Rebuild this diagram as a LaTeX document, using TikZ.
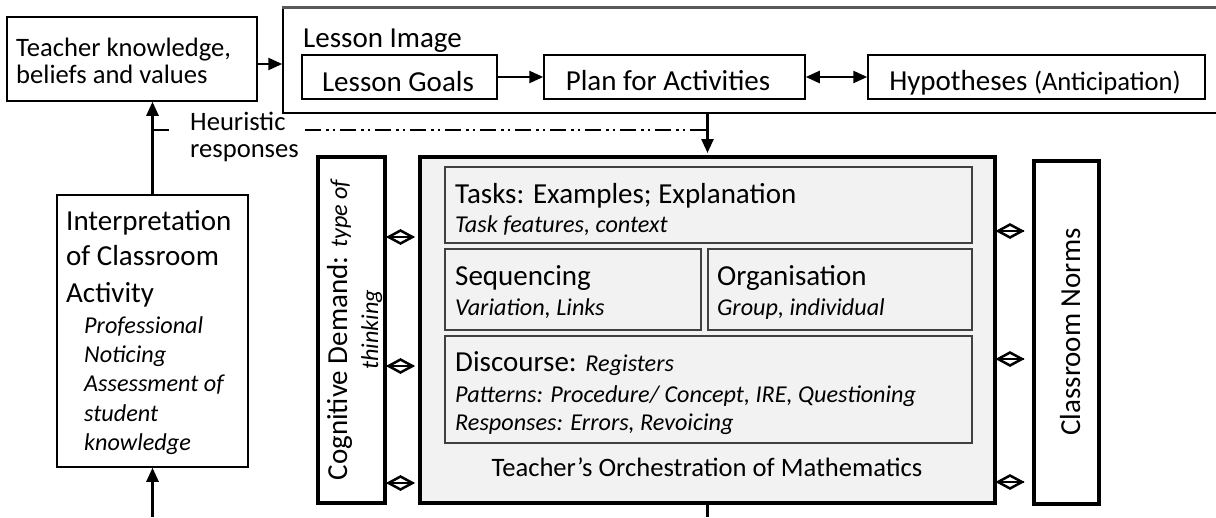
\documentclass[tikz,border=0pt]{standalone}
\usepackage{fontspec}
\setmainfont{Carlito}
\usetikzlibrary{arrows.meta,shapes.geometric}
\definecolor{boxfill}{HTML}{F2F2F2}
\definecolor{innerline}{HTML}{404040}
\definecolor{topgray}{HTML}{595959}
\newcommand\fbig{\fontsize{29}{35}\selectfont}
\newcommand\fmid{\fontsize{26.6}{27}\selectfont}
\newcommand\fsmall{\fontsize{24.2}{29}\selectfont\itshape}
\begin{document}
\begin{tikzpicture}[x=1pt,y=-1pt,
  box/.style={draw, line width=1.5pt, inner sep=0pt},
  thickbox/.style={draw, line width=4pt, inner sep=0pt},
  innerbox/.style={draw=innerline, line width=1.5pt, fill=boxfill, inner sep=0pt},
  txt/.style={anchor=base west, inner sep=0pt},
  ctxt/.style={anchor=base, inner sep=0pt},
  arr/.style={line width=2.5pt, -{Triangle[length=14pt,width=12pt]}},
  darr/.style={line width=2.5pt, {Triangle[length=14pt,width=12pt]}-{Triangle[length=14pt,width=12pt]}},
  link/.style={diamond, draw, line width=2.5pt, minimum width=25pt, minimum height=14pt, inner sep=0pt},
  dd/.style={line width=2pt, dash pattern=on 16pt off 5pt on 2.5pt off 4pt on 2.5pt off 5pt}
]
\useasboundingbox (0,0) rectangle (1216,517);
% boxes
\node[box, minimum width=250pt, minimum height=84pt] (tk) at (132,59) {};
\begin{scope}
\clip (0,0) rectangle (1216,517);
\node[box, minimum width=941pt, minimum height=105pt] (li) at (753.5,60.5) {};
\draw[topgray, line width=2.5pt] (li.north west) -- (li.north east);
\end{scope}
\node[box, minimum width=195pt, minimum height=44pt] (lg) at (399.5,77) {};
\node[box, minimum width=261pt, minimum height=44pt] (pa) at (674.5,77) {};
\node[box, minimum width=337pt, minimum height=44pt] (hy) at (1036.5,77) {};
\node[box, minimum width=191pt, minimum height=272pt] (interp) at (152.5,331) {};
\node[thickbox, minimum width=67pt, minimum height=346pt] (cog) at (351.5,330) {};
\node[thickbox, fill=boxfill, minimum width=575pt, minimum height=346pt] (main) at (707.5,330) {};
\node[thickbox, minimum width=65pt, minimum height=343pt] (norms) at (1066.5,332.5) {};
\node[innerbox, minimum width=527pt, minimum height=76pt] (tasks) at (708.5,205) {};
\node[innerbox, minimum width=256pt, minimum height=81pt] (seq) at (573,289.5) {};
\node[innerbox, minimum width=264pt, minimum height=81pt] (org) at (840,289.5) {};
\node[innerbox, minimum width=527pt, minimum height=107pt] (disc) at (708.5,389.5) {};
% texts
\node[txt, font=\fmid] at (16,56) {Teacher knowledge,};
\node[txt, font=\fmid] at (16,83) {beliefs and values};
\node[txt, font=\fbig] at (303,47) {Lesson Image};
\node[ctxt, font=\fbig] at (398,91) {Lesson Goals};
\node[ctxt, font=\fbig] at (668,90) {Plan for Activities};
\node[ctxt, font=\fbig] at (1035,90) {Hypotheses {\fmid(Anticipation)}};
\node[txt, font=\fbig] at (66,230) {Interpretation};
\node[txt, font=\fbig] at (66,265) {of Classroom};
\node[txt, font=\fbig] at (66,302) {Activity};
\node[txt, font=\fsmall] at (84,333) {Professional};
\node[txt, font=\fsmall] at (84,362) {Noticing};
\node[txt, font=\fsmall] at (84,391) {Assessment of};
\node[txt, font=\fsmall] at (84,421) {student};
\node[txt, font=\fsmall] at (84,450) {knowledge};
\node[txt, font=\fbig] at (455,203) {Tasks: Examples; Explanation};
\node[txt, font=\fsmall] at (455,232) {Task features, context};
\node[txt, font=\fbig] at (455,285) {Sequencing};
\node[txt, font=\fsmall] at (455,315) {Variation, Links};
\node[txt, font=\fbig] at (717,285) {Organisation};
\node[txt, font=\fsmall] at (717,315) {Group, individual};
\node[txt, font=\fbig] at (455,371) {Discourse: {\fsmall Registers}};
\node[txt, font=\fsmall] at (455,402) {Patterns: Procedure/ Concept, IRE, Questioning};
\node[txt, font=\fsmall] at (455,430) {Responses: Errors, Revoicing};
\node[ctxt, font=\fmid] at (707,476) {Teacher’s Orchestration of Mathematics};
\node[ctxt, font=\fbig, rotate=90] at (347,330) {Cognitive Demand: {\fsmall type of}};
\node[ctxt, font=\fsmall, rotate=90] at (378,330) {thinking};
\node[ctxt, font=\fbig, rotate=90] at (1080,332) {Classroom Norms};
% heuristic label and dash-dot connector
\node[txt, font=\fmid, text width=115pt, align=left] (heur) at (190,130) {Heuristic\\responses};
\coordinate (hl) at (interp.north |- 0,130);
\coordinate (hr) at (main.north |- 0,130);
\draw[dd] (hl) -- ++(16,0);
\draw[dd] (heur.east |- hr) -- (hr);
% arrows
\draw[arr] (tk.east |- 0,64) -- (li.west |- 0,64);
\draw[arr] (lg) -- (pa);
\draw[darr] (pa) -- (hy);
\draw[arr] (interp.north) -- (interp.north |- tk.south);
\coordinate (bot) at (interp.south |- 0,517);
\draw[arr] (bot) -- (interp.south);
\draw[arr] (main.north |- li.south) -- ([yshift=2pt]main.north);
\coordinate (mbot) at (main.south |- 0,517);
\draw[line width=2.5pt] (main.south) -- (mbot);
% diamond links
\foreach \n/\px/\py in {l1/400.5/237, l2/400.5/366, l3/400.5/483, r1/1010/231, r2/1010/359, r3/1010/482}{
  \node[link] (d\n) at (\px,\py) {};
  \draw[line width=2.5pt] (d\n.west) -- (d\n.east);
}
\end{tikzpicture}
\end{document}
